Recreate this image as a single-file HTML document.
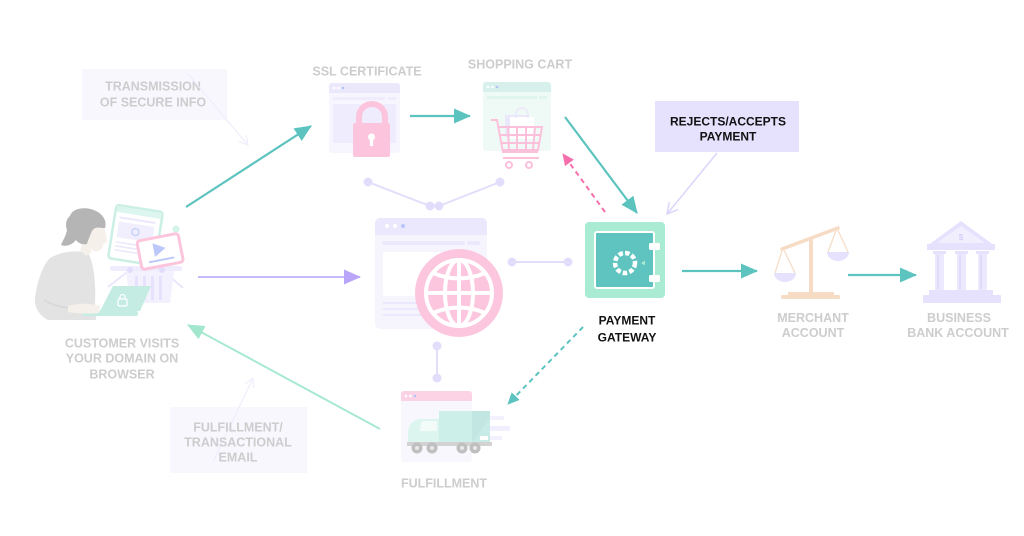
<!DOCTYPE html>
<html><head><meta charset="utf-8"><style>
html,body{margin:0;padding:0;background:#fff;width:1024px;height:536px;overflow:hidden}
svg{display:block}
text{font-family:"Liberation Sans",Arial,sans-serif;font-weight:bold;text-anchor:middle}
.g{fill:#cdcdcd;font-size:12.5px}
.k{fill:#111;font-size:12px}
</style></head><body>
<svg width="1024" height="536" viewBox="0 0 1024 536" xmlns="http://www.w3.org/2000/svg">
<defs>
<marker id="mt" markerWidth="17" markerHeight="15" refX="16" refY="7.5" orient="auto" markerUnits="userSpaceOnUse"><path d="M0,0 L17,7.5 L0,15 z" fill="#5cc3be"/></marker>
<marker id="mp" markerWidth="17" markerHeight="15" refX="16" refY="7.5" orient="auto" markerUnits="userSpaceOnUse"><path d="M0,0 L17,7.5 L0,15 z" fill="#b9a6f8"/></marker>
<marker id="mg" markerWidth="17" markerHeight="15" refX="16" refY="7.5" orient="auto" markerUnits="userSpaceOnUse"><path d="M0,0 L17,7.5 L0,15 z" fill="#a2e7cd"/></marker>
<marker id="mk" markerWidth="12" markerHeight="11" refX="11" refY="5.5" orient="auto" markerUnits="userSpaceOnUse"><path d="M0,0 L12,5.5 L0,11 z" fill="#f56fac"/></marker>
<marker id="mtd" markerWidth="12" markerHeight="11" refX="11" refY="5.5" orient="auto" markerUnits="userSpaceOnUse"><path d="M0,0 L12,5.5 L0,11 z" fill="#5cc3be"/></marker>
<marker id="ml" markerWidth="12" markerHeight="12" refX="11" refY="6" orient="auto" markerUnits="userSpaceOnUse"><path d="M0,0 L11,6 L0,12" fill="none" stroke="#dcd5fb" stroke-width="1.5"/></marker>
<marker id="mf" markerWidth="10" markerHeight="10" refX="9" refY="5" orient="auto" markerUnits="userSpaceOnUse"><path d="M0,0 L9,5 L0,10" fill="none" stroke="#efeefb" stroke-width="1.2"/></marker>
</defs>

<!-- transmission box -->
<rect x="82" y="69" width="145" height="51" fill="#f8f7fe"/>
<text class="g" x="153" y="90.5">TRANSMISSION</text>
<text class="g" x="153" y="106.5">OF SECURE INFO</text>
<line x1="188" y1="74" x2="248" y2="145" stroke="#efeefb" stroke-width="1.2" marker-end="url(#mf)"/>

<!-- fulfillment/transactional email box -->
<rect x="170" y="407" width="137" height="66" fill="#f8f7fe"/>
<line x1="213" y1="462" x2="253" y2="378" stroke="#efeefb" stroke-width="1.2" marker-end="url(#mf)"/>
<text class="g" x="238" y="431.5">FULFILLMENT/</text>
<text class="g" x="238" y="446.5">TRANSACTIONAL</text>
<text class="g" x="238" y="461.5">EMAIL</text>

<!-- connectors (lavender) -->
<g stroke="#e3ddfc" stroke-width="2" fill="#e3ddfc">
<line x1="368" y1="182" x2="430" y2="206"/><line x1="439" y1="206" x2="500" y2="182"/>
<circle cx="368" cy="182" r="3.5"/><circle cx="430" cy="206" r="3.5"/><circle cx="439" cy="206" r="3.5"/><circle cx="500" cy="182" r="3.5"/>
<line x1="512" y1="262" x2="568" y2="262"/><circle cx="512" cy="262" r="3.5"/><circle cx="568" cy="262" r="3.5"/>
<line x1="437" y1="346" x2="437" y2="378"/><circle cx="437" cy="346" r="3.5"/><circle cx="437" cy="378" r="3.5"/>
</g>

<!-- arrows -->
<line x1="186" y1="207" x2="311" y2="126" stroke="#5cc3be" stroke-width="2.2" marker-end="url(#mt)"/>
<line x1="198" y1="277" x2="360" y2="277" stroke="#c7bafa" stroke-width="2" marker-end="url(#mp)"/>
<line x1="380" y1="429" x2="188" y2="325" stroke="#a7e9d0" stroke-width="2" marker-end="url(#mg)"/>
<line x1="410" y1="116" x2="470" y2="116" stroke="#5cc3be" stroke-width="2.2" marker-end="url(#mt)"/>
<line x1="565" y1="117" x2="637" y2="213" stroke="#5cc3be" stroke-width="2.2" marker-end="url(#mt)"/>
<line x1="605" y1="212" x2="563" y2="154" stroke="#f56fac" stroke-width="2" stroke-dasharray="5 4" marker-end="url(#mk)"/>
<line x1="583" y1="327" x2="508" y2="404" stroke="#5cc3be" stroke-width="2" stroke-dasharray="5 4" marker-end="url(#mtd)"/>
<line x1="682" y1="271" x2="757" y2="271" stroke="#5cc3be" stroke-width="2.2" marker-end="url(#mt)"/>
<line x1="848" y1="275" x2="916" y2="275" stroke="#5cc3be" stroke-width="2.2" marker-end="url(#mt)"/>
<line x1="717" y1="153" x2="667" y2="214" stroke="#dcd5fb" stroke-width="1.5" marker-end="url(#ml)"/>

<!-- SSL -->
<text class="g" x="367" y="75.5">SSL CERTIFICATE</text>
<rect x="329" y="83" width="71" height="70" rx="3" fill="#f7f6fe"/>
<path d="M329,93 V86 a3,3 0 0 1 3,-3 H397 a3,3 0 0 1 3,3 V93 z" fill="#ece8fc"/>
<circle cx="334" cy="88" r="1.3" fill="#fff"/><circle cx="338.5" cy="88" r="1.3" fill="#fff"/><circle cx="343" cy="88" r="1.3" fill="#b3c3f8"/>
<rect x="333" y="97" width="52" height="3" fill="#efedfd"/><rect x="388" y="97" width="8" height="3" fill="#efedfd"/>
<rect x="333" y="104" width="63" height="39" fill="#efedfd"/>
<path d="M359,124 V117 a13,13 0 0 1 26,0 V124" fill="none" stroke="#fcc5dd" stroke-width="6"/>
<rect x="353" y="123" width="37" height="34" rx="2" fill="#fcc5dd"/>
<circle cx="371.5" cy="137" r="3.5" fill="#fff"/><rect x="369.8" y="138" width="3.4" height="8" fill="#fff"/>

<!-- shopping cart -->
<text class="g" x="520" y="68.5">SHOPPING CART</text>
<rect x="483" y="82" width="68" height="69" rx="3" fill="#effaf7"/>
<path d="M483,92 V85 a3,3 0 0 1 3,-3 H548 a3,3 0 0 1 3,3 V92 z" fill="#d7f0ec"/>
<circle cx="488" cy="87" r="1.3" fill="#fff"/><circle cx="492.5" cy="87" r="1.3" fill="#fff"/><circle cx="497" cy="87" r="1.3" fill="#b3c3f8"/>
<rect x="487" y="96" width="50" height="3" fill="#e0f4f0"/><rect x="539" y="96" width="8" height="3" fill="#e0f4f0"/>
<rect x="505" y="115" width="24" height="22" fill="#ece8fc"/>
<rect x="510" y="117" width="24" height="22" fill="#fff"/>
<path d="M516,118 v-4 a6,6 0 0 1 12,0 v4" fill="none" stroke="#ece8fc" stroke-width="1.5"/>
<g fill="none" stroke="#fcc0da" stroke-width="2">
<path d="M491,120 H497 L503,152 H538"/>
<path d="M498,127 H542 L538,150 H503"/>
<line x1="508" y1="127" x2="509" y2="150"/><line x1="517" y1="127" x2="517" y2="150"/><line x1="526" y1="127" x2="526" y2="150"/><line x1="535" y1="127" x2="533" y2="150"/>
<line x1="500" y1="135" x2="541" y2="135"/><line x1="501" y1="143" x2="539" y2="143"/>
<line x1="503" y1="158" x2="539" y2="158"/>
<circle cx="509" cy="165" r="3"/><circle cx="529" cy="165" r="3"/>
</g>

<!-- central browser + globe -->
<rect x="375" y="218" width="112" height="111" rx="5" fill="#f6f5fe"/>
<path d="M375,235 V223 a5,5 0 0 1 5,-5 H482 a5,5 0 0 1 5,5 V235 z" fill="#ebe7fc"/>
<circle cx="387" cy="226" r="2" fill="#fff"/><circle cx="395" cy="226" r="2" fill="#fff"/><circle cx="403" cy="226" r="2" fill="#b7c6f8"/>
<rect x="382" y="241" width="83" height="4" rx="2" fill="#ebe7fc"/><rect x="467" y="241" width="13" height="4" rx="2" fill="#ebe7fc"/>
<rect x="383" y="252" width="82" height="44" rx="2" fill="#fff"/>
<rect x="383" y="302" width="40" height="2" fill="#ebe7fc"/><rect x="383" y="308" width="40" height="2" fill="#ebe7fc"/><rect x="383" y="314" width="40" height="2" fill="#ebe7fc"/>
<circle cx="459" cy="293" r="44" fill="#fcc7de"/>
<g fill="none" stroke="#fff" stroke-width="4">
<circle cx="459" cy="293" r="33"/>
<ellipse cx="459" cy="293" rx="14" ry="33"/>
<line x1="459" y1="260" x2="459" y2="326"/>
<line x1="426" y1="293" x2="492" y2="293"/>
<path d="M433,273 Q459,284 485,273"/>
<path d="M433,313 Q459,302 485,313"/>
</g>

<!-- safe -->
<rect x="585" y="222" width="80" height="76" rx="4" fill="#a9ebd3"/>
<rect x="595" y="232" width="59" height="56" rx="2" fill="#5fc4bf" stroke="#fff" stroke-width="2"/>
<rect x="649" y="243" width="11" height="7" rx="1.5" fill="#fff"/><rect x="649" y="275" width="11" height="7" rx="1.5" fill="#fff"/>
<circle cx="625" cy="263" r="10" fill="none" stroke="#fff" stroke-width="4.5" stroke-dasharray="4.5 2.2"/>
<path d="M641,263 L645,260.5 V265.5 z" fill="#a9ebd3"/>
<text class="k" x="627" y="324.5">PAYMENT</text>
<text class="k" x="627" y="341.5">GATEWAY</text>

<!-- rejects box -->
<rect x="655" y="101" width="144" height="51" fill="#e6e1fd"/>
<text class="k" x="728" y="125.5">REJECTS/ACCEPTS</text>
<text class="k" x="728" y="140.5">PAYMENT</text>

<!-- scale -->
<g stroke="#f6dcc5" fill="none" stroke-width="1.2">
<line x1="783" y1="248" x2="775" y2="273"/><line x1="783" y1="248" x2="795" y2="273"/>
<line x1="837" y1="228" x2="828" y2="252"/><line x1="837" y1="228" x2="848" y2="252"/>
</g>
<line x1="782" y1="249" x2="838" y2="228" stroke="#f6dcc5" stroke-width="3.5" stroke-linecap="round"/>
<rect x="809" y="239" width="4" height="56" fill="#f6dcc5"/>
<rect x="788" y="292" width="46" height="3" fill="#f6dcc5"/>
<rect x="781" y="295" width="59" height="4" rx="1.5" fill="#f6dcc5"/>
<path d="M774,273 h22 a11,9 0 0 1 -22,0 z" fill="#e6e1fd"/>
<path d="M827,252 h22 a11,9 0 0 1 -22,0 z" fill="#e6e1fd"/>
<text class="g" x="813" y="322">MERCHANT</text>
<text class="g" x="813" y="337">ACCOUNT</text>

<!-- bank -->
<path d="M927,246 L961,221 L995,246 z" fill="#e6e1fd"/>
<path d="M937,243 L961,226 L985,243 z" fill="#f1eefe"/>
<text x="961" y="240" style="font-size:8px;fill:#d6cffb">$</text>
<rect x="927" y="244" width="68" height="6" fill="#e6e1fd"/>
<rect x="933" y="251" width="13" height="3" fill="#e6e1fd"/><rect x="955" y="251" width="13" height="3" fill="#e6e1fd"/><rect x="976" y="251" width="13" height="3" fill="#e6e1fd"/>
<rect x="935" y="254" width="9" height="36" fill="#ece8fd"/><rect x="957" y="254" width="9" height="36" fill="#ece8fd"/><rect x="978" y="254" width="9" height="36" fill="#ece8fd"/>
<rect x="937" y="255" width="2" height="34" fill="#e0daf9"/><rect x="959" y="255" width="2" height="34" fill="#e0daf9"/><rect x="980" y="255" width="2" height="34" fill="#e0daf9"/>
<rect x="929" y="290" width="64" height="5" fill="#e6e1fd"/>
<rect x="923" y="295" width="78" height="8" rx="1" fill="#e6e1fd"/>
<text class="g" x="959" y="322">BUSINESS</text>
<text class="g" x="958" y="337">BANK ACCOUNT</text>

<!-- fulfillment -->
<rect x="401" y="391" width="71" height="71" rx="3" fill="#f8f7fe"/>
<path d="M401,401 V394 a3,3 0 0 1 3,-3 H469 a3,3 0 0 1 3,3 V401 z" fill="#fcd3e5"/>
<circle cx="406" cy="396" r="1.3" fill="#fff"/><circle cx="410.5" cy="396" r="1.3" fill="#fff"/><circle cx="415" cy="396" r="1.3" fill="#b3c3f8"/>
<rect x="490" y="416" width="14" height="4" fill="#f3f1fd"/><rect x="490" y="426" width="20" height="5" fill="#f1eefd"/><rect x="490" y="436" width="12" height="4" fill="#f3f1fd"/>
<rect x="439" y="411" width="33" height="32" fill="#ccefe9"/>
<rect x="472" y="411" width="18" height="32" fill="#c2e6e2"/>
<path d="M472,443 L490,418 V443 z" fill="#c9ebe7"/>
<path d="M408,443 V432 Q410,420 420,419 H439 V443 z" fill="#dcf5ee"/>
<path d="M423,421 H437 V431 H420 Q420,423 423,421 z" fill="#f3fbf9"/>
<rect x="480" y="436" width="8" height="4" fill="#fff"/>
<rect x="407" y="442" width="85" height="4" fill="#d2d2d2"/>
<g fill="#bfbfbf"><circle cx="417" cy="448" r="5.5"/><circle cx="432" cy="448" r="5.5"/><circle cx="462" cy="448" r="5.5"/><circle cx="475" cy="448" r="5.5"/></g>
<g fill="#e8e8e8"><circle cx="417" cy="448" r="2"/><circle cx="432" cy="448" r="2"/><circle cx="462" cy="448" r="2"/><circle cx="475" cy="448" r="2"/></g>
<text class="g" x="444" y="487.5">FULFILLMENT</text>

<!-- customer illustration -->
<!-- basket -->
<g stroke="#ebe6fd" stroke-width="2" fill="none">
<line x1="108" y1="287" x2="130" y2="270"/><line x1="162" y1="270" x2="183" y2="288"/>
</g>
<rect x="110" y="266" width="72" height="5" rx="2" fill="#efecfd"/>
<path d="M126,271 H174 L170,303 H130 z" fill="#f3f1fe"/>
<g fill="#e6e1fd"><rect x="135" y="276" width="3" height="24"/><rect x="143" y="276" width="3" height="24"/><rect x="151" y="276" width="3" height="24"/><rect x="159" y="276" width="3" height="24"/></g>
<circle cx="130" cy="270" r="3" fill="#e3ddfc"/><circle cx="162" cy="270" r="3" fill="#e3ddfc"/>
<!-- mint browser -->
<g transform="rotate(9 135 235)">
<rect x="112" y="208" width="47" height="54" rx="3" fill="#fff" stroke="#cbefe4" stroke-width="2.5"/>
<rect x="113" y="209" width="45" height="6" fill="#dcf5ee"/>
<rect x="117" y="219" width="36" height="2" fill="#ebe7fc"/>
<rect x="117" y="224" width="36" height="16" fill="#f1eefd"/>
<circle cx="135" cy="232" r="3.5" fill="none" stroke="#c7d2fa" stroke-width="1.5"/>
<rect x="117" y="244" width="30" height="1.5" fill="#ebe7fc"/><rect x="117" y="248" width="30" height="1.5" fill="#ebe7fc"/><rect x="117" y="252" width="30" height="1.5" fill="#ebe7fc"/>
</g>
<!-- video card -->
<g transform="rotate(-11 160 251)">
<rect x="139" y="237" width="42" height="29" rx="3" fill="#fff" stroke="#fcc5dc" stroke-width="3"/>
<path d="M154,242 L166,249 L154,256 z" fill="#bcc8fa"/>
<rect x="147" y="259" width="26" height="2" rx="1" fill="#bcc8fa"/>
</g>
<circle cx="176" cy="229" r="3.5" fill="#d4f3e8"/>
<!-- body -->
<path d="M50,258 C62,251 78,250 88,253 C94,262 96,285 95,303 L96,320 L48,320 C40,316 34,308 35,298 C37,283 42,266 50,258 z" fill="#e3e3e3"/>
<path d="M44,300 C50,304 62,308 72,308" fill="none" stroke="#d7d7d7" stroke-width="1.5"/>
<!-- neck & face -->
<path d="M84,240 L92,252 L86,256 L80,250 z" fill="#f6f0ea"/>
<path d="M86,222 C93,218 103,222 105,230 C106,236 108,240 106,243 L103,244 C103,249 100,252 94,251 L86,246 z" fill="#f6f0ea"/>
<!-- hair -->
<path d="M70,216 C72,208 86,206 96,211 C104,215 107,222 105,228 C99,228 95,226 92,231 C90,236 88,240 87,244 C82,245 78,243 76,240 C72,245 66,247 61,245 C63,240 66,236 67,230 C65,225 66,219 70,216 z" fill="#b5b5b5"/>
<!-- laptop -->
<path d="M113,286 H151 L140,311 H100 z" fill="#c4ece3"/>
<rect x="82" y="311" width="56" height="5" rx="2" fill="#c4ece3"/>
<rect x="118" y="299" width="9" height="7" rx="1.5" fill="none" stroke="#fff" stroke-width="1.3"/>
<path d="M120,299 v-2 a2.5,2.5 0 0 1 5,0 v2" fill="none" stroke="#fff" stroke-width="1.3"/>
<!-- hand -->
<path d="M68,306 C78,303 90,303 100,306 L99,313 C90,314 78,314 68,312 z" fill="#f6f0ea"/>
<text class="g" x="122" y="347.5">CUSTOMER VISITS</text>
<text class="g" x="122" y="362.5">YOUR DOMAIN ON</text>
<text class="g" x="122" y="378.5">BROWSER</text>
</svg>
</body></html>
